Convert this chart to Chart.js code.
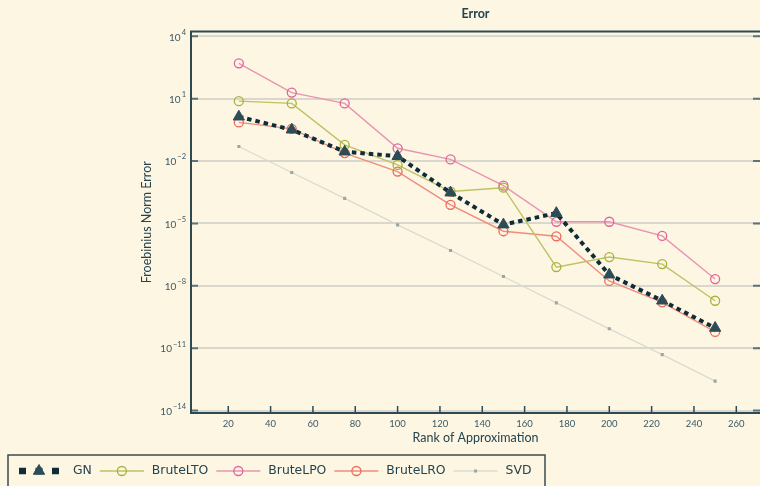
<!DOCTYPE html>
<html>
<head>
<meta charset="utf-8">
<script src="https://cdn.jsdelivr.net/npm/chart.js@4.4.1/dist/chart.umd.min.js"></script>
<style>
  html, body { margin: 0; padding: 0; background: #fdf6e3; }
  #wrap { width: 760px; height: 486px; }
</style>
</head>
<body>
<div id="wrap"><canvas id="errChart" width="760" height="486"></canvas></div>
<script>
// values (log axis)
const ranks = [25, 50, 75, 100, 125, 150, 175, 200, 225, 250];
const gnError  = [1.35, 3.2e-1, 2.8e-2, 1.7e-2, 3.0e-4, 8.7e-6, 3.1e-5, 3.4e-8, 1.9e-9, 9.3e-11];
const ltoError = [7.6, 5.9, 6.0e-2, 6.5e-3, 3.4e-4, 5.2e-4, 7.9e-8, 2.4e-7, 1.1e-7, 1.9e-9];
const lpoError = [500, 19.5, 5.9, 4.1e-2, 1.2e-2, 6.5e-4, 1.2e-5, 1.2e-5, 2.5e-6, 2.1e-8];
const lroError = [0.72, 0.35, 2.4e-2, 3.1e-3, 7.8e-5, 4.2e-6, 2.4e-6, 1.7e-8, 1.6e-9, 6.0e-11];
const svdError = [5.0e-2, 2.8e-3, 1.6e-4, 8.5e-6, 5.0e-7, 2.8e-8, 1.5e-9, 8.5e-11, 4.9e-12, 2.6e-13];

const xTicks = [20, 40, 60, 80, 100, 120, 140, 160, 180, 200, 220, 240, 260];
const yTickExps = [4, 1, -2, -5, -8, -11, -14];

const FONT = 'Lato, "DejaVu Sans", sans-serif';
const LEGEND_FONT = '"DejaVu Sans", sans-serif';
const TEXT = '#3b5965';
const TITLE = '#24444f';
const AXIS = '#2d4a52';

Chart.defaults.font.family = FONT;
Chart.defaults.color = TEXT;

function pts(arr) {
    return ranks.map((r, i) => ({ x: r, y: arr[i] }));
}

function drawMarker(ctx, ds, x, y) {
    const r = ds.pointRadius;
    ctx.save();
    ctx.lineWidth = ds.pointBorderWidth;
    ctx.strokeStyle = ds.pointBorderColor;
    ctx.fillStyle = ds.pointBackgroundColor;
    ctx.beginPath();
    if (ds.pointStyle === 'triangle') {
        ctx.moveTo(x, y - r);
        ctx.lineTo(x + r * 0.87, y + r * 0.5);
        ctx.lineTo(x - r * 0.87, y + r * 0.5);
        ctx.closePath();
    } else if (ds.pointStyle === 'rect') {
        ctx.rect(x - r * 0.7, y - r * 0.7, r * 1.4, r * 1.4);
    } else {
        ctx.arc(x, y, r, 0, Math.PI * 2);
    }
    ctx.fill();
    if (ds.pointBorderWidth) ctx.stroke();
    ctx.restore();
}

const framePlugin = {
    id: 'frame',
    afterDraw(chart) {
        const { ctx, chartArea: a, scales } = chart;
        ctx.save();
        // inward tick marks
        ctx.strokeStyle = AXIS;
        ctx.lineWidth = 1.5;
        scales.x.ticks.forEach(t => {
            const x = scales.x.getPixelForValue(t.value);
            ctx.beginPath();
            ctx.moveTo(x, a.bottom);
            ctx.lineTo(x, a.bottom - 7);
            ctx.stroke();
        });
        ctx.strokeStyle = '#5d7479';
        ctx.lineWidth = 2;
        scales.y.ticks.forEach(t => {
            const y = scales.y.getPixelForValue(t.value);
            ctx.beginPath();
            ctx.moveTo(a.left, y);
            ctx.lineTo(a.left + 7, y);
            ctx.moveTo(a.right, y);
            ctx.lineTo(a.right - 7, y);
            ctx.stroke();
        });
        // frame: left, bottom, top (right edge falls off the canvas)
        ctx.strokeStyle = AXIS;
        ctx.lineWidth = 2;
        ctx.beginPath();
        ctx.moveTo(a.right, a.top);
        ctx.lineTo(a.left, a.top);
        ctx.lineTo(a.left, a.bottom);
        ctx.lineTo(a.right, a.bottom);
        ctx.stroke();

        // y tick labels as 10^exp
        ctx.fillStyle = TEXT;
        ctx.textBaseline = 'middle';
        scales.y.ticks.forEach(t => {
            const y = scales.y.getPixelForValue(t.value);
            const exp = Math.round(Math.log10(t.value));
            const expTxt = exp < 0 ? '\u2212' + Math.abs(exp) : String(exp);
            ctx.font = '7.5px ' + FONT;
            const ew = ctx.measureText(expTxt).width;
            const right = a.left - 5;
            ctx.textAlign = 'left';
            ctx.fillText(expTxt, right - ew, y - 4);
            ctx.font = '10px ' + FONT;
            ctx.textAlign = 'right';
            ctx.fillText('10', right - ew - 1, y + 1);
        });

        // legend
        ctx.fillStyle = '#fdf6e3';
        ctx.fillRect(8, 455, 537, 40);
        ctx.strokeStyle = '#3b4b50';
        ctx.lineWidth = 1.5;
        ctx.strokeRect(8, 455, 537, 40);
        const ly = 471;
        let x = 19;
        ctx.font = '12.4px ' + LEGEND_FONT;
        ctx.textAlign = 'left';
        ctx.textBaseline = 'middle';
        chart.data.datasets.forEach((ds, i) => {
            const w = i === 0 ? 40 : 44;
            ctx.save();
            ctx.strokeStyle = ds.borderColor;
            ctx.lineWidth = i === 0 ? 6.5 : ds.borderWidth;
            ctx.setLineDash(i === 0 ? [7, 9.5] : []);
            ctx.beginPath();
            ctx.moveTo(x, ly);
            ctx.lineTo(x + w, ly);
            ctx.stroke();
            ctx.restore();
            drawMarker(ctx, ds, x + w / 2, ly);
            const tx = x + w + (i === 0 ? 14 : 8);
            ctx.fillStyle = TITLE;
            ctx.fillText(ds.label, tx, ly);
            x = tx + ctx.measureText(ds.label).width + 8;
        });
        ctx.restore();
    }
};

const circleSet = (label, data, color, line) => ({
    label: label,
    data: pts(data),
    borderColor: line,
    borderWidth: 1.4,
    pointStyle: 'circle',
    pointRadius: 4.5,
    pointBorderWidth: 1.3,
    pointBorderColor: color,
    pointBackgroundColor: 'rgba(0,0,0,0)'
});

new Chart(document.getElementById('errChart'), {
    type: 'line',
    data: {
        datasets: [
            {
                label: 'GN',
                data: pts(gnError),
                borderColor: '#0f2d38',
                borderWidth: 4,
                borderDash: [4.5, 4],
                pointStyle: 'triangle',
                pointRadius: 6.5,
                pointBorderWidth: 1,
                pointBorderColor: '#2c4c57',
                pointBackgroundColor: '#2c4c57'
            },
            circleSet('BruteLTO', ltoError, '#a9b03c', '#bfc264'),
            circleSet('BruteLPO', lpoError, '#e0649c', '#e993b0'),
            circleSet('BruteLRO', lroError, '#ec6a5c', '#f08c7e'),
            {
                label: 'SVD',
                data: pts(svdError),
                borderColor: '#dcdad0',
                borderWidth: 1.3,
                pointStyle: 'rect',
                pointRadius: 2.2,
                pointBorderWidth: 0,
                pointBorderColor: '#9ea6a4',
                pointBackgroundColor: '#9ea6a4'
            }
        ]
    },
    options: {
        responsive: false,
        animation: false,
        layout: { autoPadding: false, padding: { left: 0, right: 0, top: 0, bottom: 33 } },
        plugins: {
            legend: { display: false },
            tooltip: { enabled: false },
            title: {
                display: true,
                fullSize: false,
                text: 'Error',
                color: TITLE,
                font: { size: 12.5, weight: 'bold' },
                padding: { top: 6, bottom: 10.5 }
            }
        },
        scales: {
            x: {
                type: 'linear',
                min: 2.4,
                max: 271.2,
                afterBuildTicks: s => { s.ticks = xTicks.map(v => ({ value: v })); },
                afterFit: s => { s.height = 40; s.paddingLeft = 0; s.paddingRight = 0; },
                grid: { display: false, drawTicks: false },
                border: { display: false },
                ticks: { padding: 5, font: { size: 9.5 }, color: TEXT, maxRotation: 0, autoSkip: false, callback: v => v },
                title: { display: true, text: 'Rank of Approximation', color: TITLE, font: { size: 12.5 }, padding: { top: 0, bottom: 8 } }
            },
            y: {
                type: 'logarithmic',
                min: Math.pow(10, -14.12),
                max: Math.pow(10, 4.23),
                afterBuildTicks: s => { s.ticks = yTickExps.map(e => ({ value: Math.pow(10, e) })); },
                afterFit: s => { s.width = 191; s.paddingTop = 0; s.paddingBottom = 0; },
                grid: { color: '#dad7cd', lineWidth: 2, drawTicks: false },
                border: { display: false },
                ticks: { display: false },
                title: { display: true, text: 'Froebinius Norm Error', color: TITLE, font: { size: 12.5 }, padding: { top: 139, bottom: 0 } }
            }
        }
    },
    plugins: [framePlugin]
});
</script>
</body>
</html>
